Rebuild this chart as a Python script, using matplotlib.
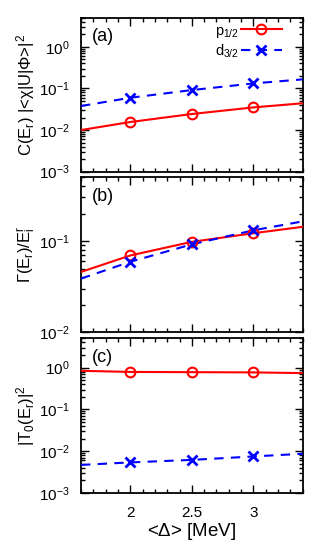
import numpy as np
import matplotlib
matplotlib.use("Agg")
import matplotlib.pyplot as plt
from matplotlib.ticker import LogLocator, FixedLocator, MultipleLocator, NullFormatter
from matplotlib.lines import Line2D

plt.rcParams['font.family'] = ['Liberation Sans', 'DejaVu Sans']
plt.rcParams['mathtext.fontset'] = 'custom'
plt.rcParams['mathtext.rm'] = 'Liberation Sans'
plt.rcParams['mathtext.it'] = 'Liberation Sans'

# Marker positions
x_pts = [2.0, 2.5, 3.0]
# Curve sample positions
x_line = [1.6, 2.0, 2.5, 3.0, 3.4]

# (a) C(E_r)|<chi|U|Phi>|^2
a_p_line = [0.0100, 0.0156, 0.0243, 0.0350, 0.0440]
a_d_line = [0.0378, 0.0597, 0.0914, 0.1320, 0.1650]
a_p_pts = [0.0156, 0.0243, 0.0350]
a_d_pts = [0.0597, 0.0914, 0.1320]

# (b) Gamma(E_r)/E_i^r
b_p_line = [0.0459, 0.0695, 0.0980, 0.1217, 0.1430]
b_d_line = [0.0388, 0.0593, 0.0920, 0.1310, 0.1640]
b_p_pts = [0.0695, 0.0980, 0.1217]
b_d_pts = [0.0593, 0.0920, 0.1310]

# (c) |T_0(E_r)|^2
c_p_line = [0.84, 0.79, 0.78, 0.77, 0.74]
c_d_line = [0.0047, 0.0054, 0.0062, 0.0075, 0.0087]
c_p_pts = [0.79, 0.78, 0.77]
c_d_pts = [0.0054, 0.0062, 0.0075]

xticks = [2, 2.5, 3]
xticklabels = ['2', '2.5', '3']
legend_labels = [r'p$_\mathregular{1/2}$', r'd$_\mathregular{3/2}$']

fig = plt.figure(figsize=(3.14, 5.45), dpi=100)
L, R = 0.258, 0.964
boxes = [(0.685, 0.9675), (0.390, 0.675), (0.0954, 0.379)]
axes = [fig.add_axes([L, b, R - L, t - b]) for b, t in boxes]

RED = '#ff0000'
BLUE = '#0000ff'
dash = (0, (4.5, 3.5))

panels = [
    (a_p_line, a_d_line, a_p_pts, a_d_pts, (1e-3, 5), [1e-3, 1e-2, 1e-1, 1e0],
     r'C(E$_\mathregular{r}$) |<$\chi$|U|$\Phi$>|$^\mathregular{2}$', '(a)'),
    (b_p_line, b_d_line, b_p_pts, b_d_pts, (1e-2, 0.5), [1e-2, 1e-1],
     r'$\Gamma$(E$_\mathregular{r}$)/E$_\mathregular{i}^\mathregular{r}$', '(b)'),
    (c_p_line, c_d_line, c_p_pts, c_d_pts, (1e-3, 5), [1e-3, 1e-2, 1e-1, 1e0],
     r'|T$_\mathregular{0}$(E$_\mathregular{r}$)|$^\mathregular{2}$', '(c)'),
]

for i, (ax, (pl, dl, pp, dp, ylim, yt, ylab, tag)) in enumerate(zip(axes, panels)):
    ax.set_yscale('log')
    ax.plot(x_line, pl, color=RED, lw=1.5, zorder=3)
    ax.plot(x_line, dl, color=BLUE, lw=1.5, linestyle=dash, zorder=3)
    ax.plot(x_pts, pp, linestyle='none', marker='o', ms=7, mfc='none',
            mec=RED, mew=1.5, zorder=4)
    ax.plot(x_pts, dp, linestyle='none', marker='x', ms=6.5,
            mec=BLUE, mew=2, zorder=4)
    ax.set_xlim(1.6, 3.4)
    ax.set_ylim(*ylim)
    ax.set_yticks(yt)
    ax.yaxis.set_minor_locator(LogLocator(base=10, subs=np.arange(2, 10)))
    ax.yaxis.set_minor_formatter(NullFormatter())
    ax.xaxis.set_major_locator(FixedLocator(xticks))
    ax.xaxis.set_minor_locator(MultipleLocator(0.1))
    ax.tick_params(which='both', direction='in', top=True, right=True,
                   labelsize=11, width=1.0)
    ax.tick_params(which='major', length=6)
    ax.tick_params(axis='y', which='major', pad=8)
    ax.tick_params(axis='x', which='major', pad=9)
    ax.tick_params(which='minor', length=3)
    for s in ax.spines.values():
        s.set_linewidth(1.3)
    ax.set_ylabel(ylab, fontsize=12)
    ax.yaxis.set_label_coords(-0.198, 0.5)
    ax.text(0.05, 0.93, tag, transform=ax.transAxes, fontsize=13,
            ha='left', va='top')
    if i < 2:
        ax.set_xticklabels([])
    else:
        ax.set_xticklabels(xticklabels)
        ax.set_xlabel(r'<$\Delta$> [MeV]', fontsize=13.5, labelpad=1)

# legend in (a)
h1 = Line2D([], [], color=RED, lw=1.5, marker='o', ms=7, mfc='none', mec=RED, mew=1.5)
h2 = Line2D([], [], color=BLUE, lw=1.5, linestyle=dash, marker='x', ms=6.5, mec=BLUE, mew=2)
axes[0].legend([h1, h2], legend_labels,
               loc='upper right', bbox_to_anchor=(0.932, 1.0), frameon=False,
               markerfirst=False, fontsize=10.5, handlelength=2.8,
               handletextpad=0.15, labelspacing=0.2, borderaxespad=0.0)

fig.savefig('out.png', dpi=100)
